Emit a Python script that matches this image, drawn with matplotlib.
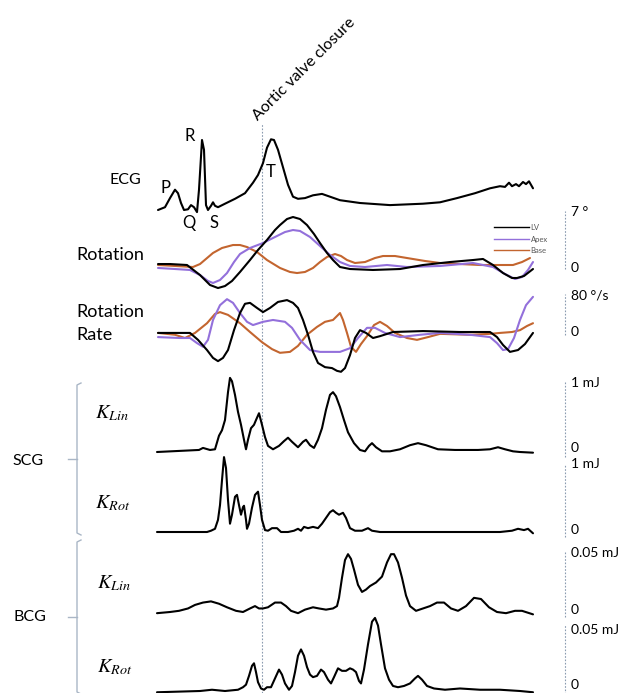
import numpy as np
import matplotlib
matplotlib.use("Agg")
import matplotlib.pyplot as plt
from matplotlib.lines import Line2D

plt.rcParams['font.family'] = ['Lato', 'DejaVu Sans']
plt.rcParams['mathtext.fontset'] = 'stix'

# ---- data (time in ms, one cardiac cycle) ----
t_avc = 210  # aortic valve closure

ecg_t = [2, 16, 26, 36, 42, 48, 54, 62, 68, 74, 80, 84, 90, 94, 98, 102, 108, 112, 116, 122,
         136, 156, 176, 192, 202, 212, 220, 228, 234, 242, 252, 262, 272, 282, 296, 312, 330,
         346, 366, 406, 466, 532, 566, 600, 636, 666, 686, 696, 704, 710, 718, 724, 732, 738,
         744, 752]
ecg_mv = [0.00, 0.04, 0.17, 0.29, 0.24, 0.10, 0.00, 0.01, 0.07, 0.04, -0.03, 0.29, 1.00, 0.86,
          0.07, 0.00, 0.06, 0.11, 0.06, 0.04, 0.09, 0.16, 0.24, 0.39, 0.50, 0.67, 0.89, 1.01,
          1.00, 0.86, 0.61, 0.36, 0.19, 0.16, 0.17, 0.21, 0.23, 0.19, 0.14, 0.10, 0.07, 0.09,
          0.11, 0.17, 0.24, 0.31, 0.34, 0.33, 0.39, 0.34, 0.37, 0.34, 0.40, 0.37, 0.41, 0.31]

rot_lv_t = [2, 26, 60, 86, 106, 122, 136, 150, 166, 186, 202, 220, 236, 246, 260, 272, 286,
            300, 314, 326, 340, 352, 366, 386, 432, 486, 532, 586, 632, 652, 672, 692, 710,
            720, 734, 752]
rot_lv = [0.13, 0.13, 0.0, -1.35, -2.69, -3.10, -2.83, -2.15, -0.94, 0.67, 2.02, 3.37, 4.71,
          5.38, 6.19, 6.46, 6.19, 5.38, 4.17, 2.96, 1.62, 0.67, -0.27, -0.54, -0.67, -0.54,
          0.0, 0.40, 0.67, 0.81, 0.0, -1.08, -1.75, -1.75, -1.48, -0.54]
rot_apex_t = [2, 36, 66, 86, 102, 112, 126, 140, 154, 166, 186, 212, 236, 256, 272, 286, 306,
              326, 346, 366, 386, 416, 460, 500, 566, 632, 672, 696, 716, 730, 742, 752]
rot_apex = [-0.40, -0.54, -0.67, -1.35, -2.15, -2.42, -2.02, -1.08, 0.40, 1.48, 2.29, 2.96,
            3.77, 4.44, 4.71, 4.58, 3.77, 2.56, 1.35, 0.40, -0.13, -0.27, 0.0, -0.27, -0.13,
            0.27, -0.27, -1.21, -1.88, -1.62, -0.67, 0.40]
rot_base_t = [2, 36, 72, 86, 112, 130, 152, 166, 180, 200, 220, 246, 266, 280, 296, 312, 326,
              340, 356, 368, 380, 396, 416, 436, 452, 476, 500, 536, 566, 606, 646, 686, 712,
              730, 746]
rot_base = [0.0, -0.13, -0.27, 0.13, 1.62, 2.29, 2.69, 2.69, 2.42, 1.75, 0.67, -0.40, -0.94,
            -1.08, -0.94, -0.40, 0.40, 1.08, 1.48, 1.21, 0.67, 0.27, 0.40, 0.94, 1.21, 1.21,
            0.94, 0.54, 0.27, 0.13, 0.0, 0.0, 0.0, 0.40, 0.94]

rr_lv_t = [2, 36, 66, 82, 100, 112, 122, 132, 142, 154, 166, 176, 186, 200, 212, 226, 242,
           260, 272, 282, 292, 302, 312, 322, 336, 350, 360, 368, 376, 386, 396, 406, 418,
           432, 446, 472, 532, 606, 666, 680, 692, 706, 722, 736, 752]
rr_lv = [-2, -2, -2, -17, -39, -56, -63, -56, -39, 4, 41, 61, 63, 52, 43, 52, 65, 69, 63, 52,
         26, -6, -43, -67, -76, -78, -84, -86, -78, -50, -13, 4, -2, -13, -9, 0, 2, 0, 0, -11,
         -28, -43, -39, -26, -2]
rr_apex_t = [2, 46, 66, 80, 92, 102, 112, 126, 140, 152, 166, 180, 192, 212, 232, 256, 270,
             286, 306, 326, 366, 386, 402, 420, 436, 456, 486, 526, 566, 626, 666, 680, 692,
             702, 714, 726, 738, 752]
rr_apex = [-11, -13, -13, -24, -32, -17, 26, 58, 71, 63, 41, 22, 15, 22, 26, 22, 9, -17, -39,
           -43, -43, -35, -13, 9, 9, -2, -11, -6, -2, -6, -11, -24, -39, -37, -13, 26, 58, 76]
rr_base_t = [2, 36, 56, 76, 100, 116, 126, 142, 166, 186, 210, 230, 246, 266, 282, 300, 320,
             336, 352, 366, 372, 380, 388, 398, 408, 420, 434, 446, 460, 476, 500, 520, 542,
             566, 626, 666, 686, 710, 726, 740, 752]
rr_base = [-2, -6, -13, -2, 19, 39, 43, 37, 19, 0, -22, -37, -45, -43, -30, -6, 11, 22, 26, 41,
           26, -2, -32, -43, -26, -9, 15, 22, 13, -2, -13, -17, -11, -4, -6, -4, -2, 0, 4, 13, 19]

scg_lin_t = [0, 84, 92, 106, 116, 124, 130, 136, 142, 146, 150, 156, 162, 168, 174, 178, 182,
             188, 194, 198, 204, 210, 216, 222, 232, 244, 254, 262, 270, 282, 292, 298, 306,
             314, 322, 330, 338, 346, 352, 358, 366, 374, 382, 394, 406, 416, 424, 430, 438,
             450, 466, 486, 506, 522, 538, 562, 596, 642, 666, 682, 696, 712, 726, 752]
scg_lin = [0.0, 0.03, 0.06, 0.03, 0.04, 0.24, 0.32, 0.47, 0.88, 1.09, 1.04, 0.84, 0.59, 0.40,
           0.18, 0.04, 0.18, 0.35, 0.40, 0.47, 0.57, 0.40, 0.22, 0.09, 0.04, 0.09, 0.16, 0.21,
           0.15, 0.07, 0.15, 0.18, 0.10, 0.06, 0.18, 0.35, 0.62, 0.84, 0.88, 0.82, 0.66, 0.47,
           0.29, 0.13, 0.03, 0.01, 0.09, 0.13, 0.07, 0.01, 0.01, 0.04, 0.10, 0.13, 0.10, 0.04,
           0.03, 0.03, 0.04, 0.07, 0.04, 0.01, 0.0, -0.01]

scg_rot_t = [0, 86, 100, 108, 116, 122, 126, 130, 134, 138, 142, 146, 150, 156, 160, 164, 168,
             172, 174, 178, 180, 184, 190, 196, 202, 206, 210, 216, 222, 230, 240, 248, 262,
             274, 282, 288, 294, 302, 312, 322, 330, 338, 346, 352, 358, 364, 372, 378, 386,
             396, 410, 422, 430, 446, 526, 686, 710, 722, 734, 742, 752]
scg_rot = [0.0, 0.0, 0.0, 0.02, 0.05, 0.19, 0.42, 0.81, 1.17, 1.00, 0.50, 0.13, 0.27, 0.55,
           0.58, 0.42, 0.27, 0.39, 0.41, 0.19, 0.05, 0.13, 0.38, 0.58, 0.63, 0.42, 0.19, 0.03,
           0.02, 0.06, 0.06, 0.0, 0.0, 0.02, 0.05, 0.02, 0.08, 0.06, 0.08, 0.06, 0.13, 0.22,
           0.31, 0.34, 0.30, 0.27, 0.30, 0.22, 0.06, 0.02, 0.02, 0.06, 0.02, 0.0, 0.0, 0.0,
           0.02, 0.05, 0.03, 0.05, -0.02]

bcg_lin_t = [0, 26, 44, 62, 76, 92, 108, 124, 140, 158, 172, 186, 196, 204, 212, 222, 236, 248,
             258, 268, 282, 296, 312, 324, 338, 352, 360, 364, 370, 376, 382, 388, 394, 402,
             410, 418, 426, 438, 450, 460, 468, 474, 482, 490, 498, 506, 518, 532, 546, 560,
             574, 588, 602, 618, 634, 648, 664, 680, 698, 716, 730, 752]
bcg_lin = [-0.001, 0.0, 0.001, 0.003, 0.006, 0.008, 0.009, 0.007, 0.004, 0.001, 0.0, 0.003,
           0.005, 0.003, 0.003, 0.004, 0.008, 0.008, 0.005, 0.001, -0.001, 0.002, 0.004, 0.003,
           0.002, 0.003, 0.005, 0.012, 0.029, 0.044, 0.049, 0.045, 0.036, 0.023, 0.017, 0.019,
           0.022, 0.025, 0.030, 0.042, 0.049, 0.049, 0.042, 0.029, 0.014, 0.005, 0.001, 0.003,
           0.005, 0.008, 0.008, 0.003, 0.001, 0.005, 0.012, 0.011, 0.004, 0.0, -0.001, 0.001,
           0.001, -0.002]

bcg_rot_t = [0, 86, 110, 136, 162, 172, 178, 184, 190, 194, 198, 202, 208, 214, 220, 228, 236,
             244, 250, 256, 264, 270, 276, 282, 288, 294, 300, 306, 312, 320, 328, 334, 342,
             348, 354, 362, 370, 378, 386, 392, 398, 404, 408, 414, 422, 430, 436, 442, 448,
             456, 464, 472, 482, 494, 506, 516, 522, 530, 540, 554, 576, 606, 646, 686, 726, 752]
bcg_rot = [-0.001, 0.0, 0.001, 0.0, 0.001, 0.003, 0.005, 0.012, 0.020, 0.022, 0.015, 0.007,
           0.002, 0.001, 0.003, 0.003, 0.010, 0.017, 0.013, 0.006, 0.001, 0.004, 0.015, 0.028,
           0.033, 0.028, 0.019, 0.013, 0.011, 0.012, 0.017, 0.015, 0.009, 0.006, 0.011, 0.018,
           0.016, 0.016, 0.018, 0.017, 0.015, 0.008, 0.006, 0.017, 0.037, 0.055, 0.058, 0.052,
           0.037, 0.018, 0.009, 0.004, 0.003, 0.004, 0.006, 0.010, 0.012, 0.009, 0.004, 0.002,
           0.001, 0.002, 0.001, 0.001, 0.0, -0.001]

# ---- figure ----
W, H = 624, 693
fig = plt.figure(figsize=(W / 100, H / 100), dpi=100)
fig.patch.set_facecolor('white')

ov = fig.add_axes([0, 0, 1, 1])
ov.set_xlim(0, W)
ov.set_ylim(H, 0)
ov.axis('off')

X0, X1 = 157, 533
T_END = 752
guide = '#8a9bb0'
purple = '#9370db'
orange = '#c3652f'


def panel(zero_px, top_px, top_val):
    ax = fig.add_axes([X0 / W, 1 - zero_px / H, (X1 - X0) / W, (zero_px - top_px) / H])
    ax.set_xlim(0, T_END)
    ax.set_ylim(0, top_val)
    ax.axis('off')
    ax.patch.set_alpha(0)
    return ax


def scale_bar(ax, top_val, label, top_off=0, zero_off=0):
    xs = 816
    ax.plot([xs, xs], [-0.08 * top_val, top_val * 1.04], ls=(0, (1.5, 1.5)), lw=0.8,
            color=guide, clip_on=False)
    ax.annotate(label, xy=(xs, top_val), xytext=(6, top_off), textcoords='offset pixels',
                fontsize=10, va='center', ha='left', annotation_clip=False)
    ax.annotate('0', xy=(xs, 0), xytext=(6, zero_off), textcoords='offset pixels',
                fontsize=10, va='center', ha='left', annotation_clip=False)


def trace(ax, t, v, color='black'):
    ax.plot(t, v, color=color, lw=1.5, clip_on=False, solid_joinstyle='round',
            solid_capstyle='round')


# aortic valve closure line
axl = fig.add_axes([X0 / W, 0, (X1 - X0) / W, 1 - 124 / H])
axl.set_xlim(0, T_END)
axl.set_ylim(0, 1)
axl.axis('off')
axl.patch.set_alpha(0)
axl.axvline(t_avc, color=guide, lw=0.8, ls=(0, (1.5, 1.5)))

ax_ecg = panel(210, 140, 1.0)
trace(ax_ecg, ecg_t, ecg_mv)

ax_rot = panel(265, 213, 7.0)
trace(ax_rot, rot_base_t, rot_base, orange)
trace(ax_rot, rot_apex_t, rot_apex, purple)
trace(ax_rot, rot_lv_t, rot_lv)
scale_bar(ax_rot, 7.0, '7 °', top_off=1, zero_off=-3)
handles = [Line2D([], [], color='black', lw=1.0),
           Line2D([], [], color=purple, lw=1.0),
           Line2D([], [], color=orange, lw=1.0)]
leg = ax_rot.legend(handles, ['LV', 'Apex', 'Base'], loc='upper left',
                    bbox_to_anchor=(494 / W, 1 - 224 / H), bbox_transform=fig.transFigure,
                    frameon=False, fontsize=5.5, handlelength=4.6, handletextpad=0.2,
                    labelspacing=0.6, borderpad=0, borderaxespad=0)
for txt in leg.get_texts():
    txt.set_color('#555555')

ax_rr = panel(332, 295, 80.0)
trace(ax_rr, rr_base_t, rr_base, orange)
trace(ax_rr, rr_apex_t, rr_apex, purple)
trace(ax_rr, rr_lv_t, rr_lv)
scale_bar(ax_rr, 80.0, '80 °/s')

ax_sl = panel(452, 384, 1.0)
trace(ax_sl, scg_lin_t, scg_lin)
scale_bar(ax_sl, 1.0, '1 mJ', top_off=1, zero_off=4)

ax_sr = panel(532, 468, 1.0)
trace(ax_sr, scg_rot_t, scg_rot)
scale_bar(ax_sr, 1.0, '1 mJ', top_off=4, zero_off=2)

ax_bl = panel(612, 553, 0.05)
trace(ax_bl, bcg_lin_t, bcg_lin)
scale_bar(ax_bl, 0.05, '0.05 mJ', zero_off=2)

ax_br = panel(691, 628, 0.05)
trace(ax_br, bcg_rot_t, bcg_rot)
scale_bar(ax_br, 0.05, '0.05 mJ', top_off=-2, zero_off=6)

# ---- labels ----
ov.text(258, 121, 'Aortic valve closure', rotation=45, rotation_mode='anchor',
        ha='left', va='baseline', fontsize=11.5)
ov.text(141, 180, 'ECG', ha='right', va='center', fontsize=11.5)
for name, x, y in [('P', 165, 188), ('R', 190, 136), ('Q', 189, 223),
                   ('S', 214, 223), ('T', 271, 172)]:
    ov.text(x, y, name, ha='center', va='center', fontsize=12)
ov.text(76, 255, 'Rotation', ha='left', va='center', fontsize=13)
ov.text(76, 312, 'Rotation', ha='left', va='center', fontsize=13)
ov.text(76, 335, 'Rate', ha='left', va='center', fontsize=13)

for label, x, y in [(r'$K_{Lin}$', 95, 413), (r'$K_{Rot}$', 95, 503),
                    (r'$K_{Lin}$', 97, 583), (r'$K_{Rot}$', 97, 667)]:
    ov.text(x, y, label, ha='left', va='center', fontsize=14.5)

ov.text(28, 461, 'SCG', ha='center', va='center', fontsize=11.5)
ov.text(30, 617, 'BCG', ha='center', va='center', fontsize=11.5)

# brackets
bracket_c = '#a9b6c6'
for top, bot, mid in [(383, 535, 459), (540, 694, 617)]:
    ov.plot([81, 77, 77, 81], [top, top + 2, bot - 2, bot], color=bracket_c, lw=1.0)
    ov.plot([68, 77], [mid, mid], color=bracket_c, lw=1.0)

fig.savefig('out.png', dpi=100, facecolor='white')
